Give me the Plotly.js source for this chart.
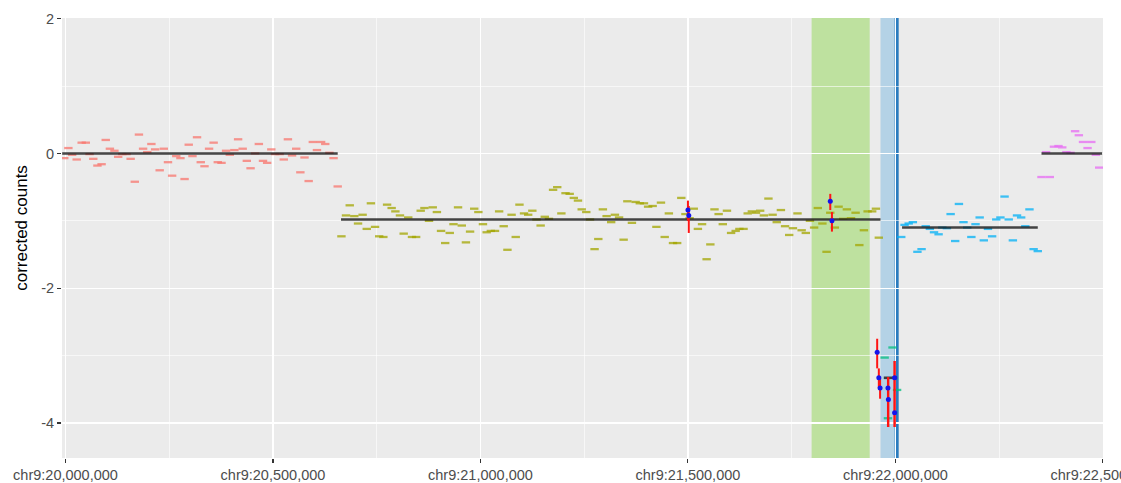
<!DOCTYPE html>
<html>
<head>
<meta charset="utf-8">
<script src="https://cdn.plot.ly/plotly-3.0.1.min.js"></script>
<style>html,body{margin:0;padding:0;background:#fff;overflow:hidden;}#chart{width:1121px;height:483px;}</style>
</head>
<body>
<div id="chart"></div>
<script>
// ---- data (genomic position in bp, corrected counts) ----
const seg1X = [19997000,20007000,20016000,20027000,20039000,20049000,20058000,20067000,20077000,20087000,20097000,20107000,20118000,20127000,20137000,20147000,20157000,20167000,20177000,20187000,20197000,20207000,20216000,20227000,20237000,20247000,20257000,20267000,20277000,20287000,20297000,20306000,20317000,20326000,20335000,20346000,20357000,20367000,20376000,20387000,20396000,20407000,20416000,20427000,20437000,20446000,20457000,20466000,20476000,20486000,20496000,20505000,20516000,20526000,20536000,20546000,20556000,20566000,20576000,20586000,20596000,20606000,20616000,20626000,20636000,20646000,20656000];
const seg1Y = [-0.07,0.08,-0.02,-0.09,0.16,0.16,-0.01,-0.08,-0.18,-0.16,0.20,0.07,0.04,-0.05,-0.01,-0.01,-0.08,-0.42,0.28,0.07,0.02,0.14,0.06,-0.25,0.07,-0.13,-0.33,-0.04,-0.07,-0.38,0.13,-0.04,0.24,-0.13,-0.19,0.07,0.16,-0.13,-0.14,0.04,-0.02,0.05,0.21,0.07,-0.11,-0.22,0.00,0.14,-0.11,-0.14,0.06,-0.01,-0.01,-0.09,0.21,-0.03,0.07,-0.28,-0.06,-0.41,0.17,0.05,0.17,0.14,0.01,-0.07,-0.49];

const seg2X = [20665000,20676000,20685000,20696000,20705000,20716000,20726000,20736000,20746000,20756000,20766000,20775000,20786000,20795000,20806000,20815000,20826000,20835000,20845000,20856000,20865000,20876000,20885000,20895000,20905000,20915000,20926000,20935000,20946000,20955000,20965000,20975000,20985000,20995000,21006000,21015000,21025000,21035000,21045000,21056000,21065000,21075000,21085000,21094000,21105000,21115000,21125000,21135000,21145000,21155000,21165000,21175000,21185000,21195000,21205000,21215000,21225000,21235000,21244000,21255000,21264000,21275000,21284000,21295000,21304000,21315000,21324000,21334000,21345000,21354000,21365000,21374000,21384000,21394000,21404000,21415000,21424000,21435000,21444000,21454000,21464000,21474000,21484000,21494000,21504000,21514000,21524000,21534000,21545000,21554000,21564000,21574000,21584000,21594000,21604000,21615000,21624000,21634000,21644000,21654000,21664000,21674000,21683000,21694000,21704000,21714000,21724000,21734000,21744000,21753000,21764000,21774000,21784000,21794000,21804000,21813000,21824000,21834000,21843000,21854000,21863000,21874000,21883000,21893000,21904000,21913000,21924000,21933000,21944000,21953000,21960000];
const seg2Y = [-1.23,-0.92,-0.77,-0.93,-1.04,-0.91,-1.12,-0.74,-1.09,-1.23,-1.24,-0.76,-0.81,-0.86,-0.92,-1.19,-0.95,-1.24,-1.24,-0.85,-0.81,-1.00,-0.80,-0.87,-1.15,-1.33,-1.18,-1.05,-0.80,-1.07,-1.32,-1.16,-0.82,-0.87,-1.05,-1.17,-1.15,-1.15,-0.86,-1.08,-1.43,-0.91,-1.24,-0.76,-0.89,-0.91,-0.85,-0.98,-1.07,-0.94,-0.97,-0.54,-0.50,-0.89,-0.59,-0.60,-0.66,-0.70,-0.83,-0.87,-0.98,-1.42,-1.27,-0.83,-0.93,-1.02,-0.91,-0.95,-1.28,-0.71,-1.03,-0.72,-0.74,-0.74,-0.79,-0.78,-1.09,-0.73,-1.24,-0.89,-1.33,-1.33,-0.66,-0.90,-0.96,-0.82,-1.12,-1.05,-1.57,-1.35,-0.83,-0.90,-1.05,-0.85,-1.18,-1.15,-1.12,-1.12,-0.89,-0.86,-0.88,-0.85,-0.92,-0.67,-0.91,-1.02,-0.84,-1.08,-1.21,-1.11,-0.89,-1.14,-1.18,-1.00,-1.10,-0.81,-1.04,-1.46,-0.88,-1.10,-0.79,-0.97,-0.83,-0.96,-0.88,-1.36,-1.14,-0.86,-0.86,-0.82,-1.25];

const seg3X = [21974000,21982000,21993000,22004000];
const seg3Y = [-3.03,-3.93,-2.88,-3.51];

const seg4X = [22014000,22022000,22032000,22042000,22053000,22063000,22073000,22083000,22093000,22104000,22113000,22124000,22133000,22144000,22153000,22164000,22173000,22183000,22193000,22203000,22213000,22223000,22233000,22243000,22253000,22263000,22273000,22283000,22293000,22303000,22313000,22323000,22333000,22343000];
const seg4Y = [-1.24,-1.06,-1.04,-1.02,-1.46,-1.42,-1.08,-1.12,-1.17,-1.20,-1.10,-1.11,-0.90,-1.30,-0.75,-1.02,-1.10,-1.24,-1.05,-0.95,-1.29,-1.12,-1.23,-0.98,-0.95,-0.64,-0.98,-1.29,-0.92,-0.95,-1.08,-0.83,-1.42,-1.45];

const seg5X = [22352000,22363000,22372000,22382000,22393000,22402000,22412000,22422000,22433000,22442000,22452000,22463000,22472000,22483000,22491000];
const seg5Y = [-0.35,0.02,-0.35,0.10,0.11,0.09,0.02,0.01,0.33,0.27,0.17,0.08,0.17,-0.02,-0.21];

// segment means: start, end, value
const segStart = [19992000,20664000,21972000,22016000,22352000];
const segEnd   = [20656000,21964000,22004000,22343000,22498000];
const segMean  = [0.00,-0.98,-3.33,-1.10,0.00];

// highlighted probes with confidence intervals
const ciX  = [21500000,21502000,21843000,21847000,21956000,21960000,21963000,21982000,21983000,21998000,21998000];
const ciY  = [-0.84,-0.92,-0.71,-1.00,-2.95,-3.33,-3.48,-3.48,-3.65,-3.33,-3.85];
const ciLo = [-1.00,-1.18,-0.84,-1.16,-3.19,-3.48,-3.64,-4.06,-4.06,-4.06,-4.06];
const ciHi = [-0.70,-0.78,-0.60,-0.87,-2.75,-3.19,-3.33,-3.32,-3.32,-3.08,-3.08];

// regions
const greenRegion = [21798000,21938000];
const blueRegion  = [21964000,22000000];
const breakpoint  = 22003000;

const xTickVals = [20000000,20500000,21000000,21500000,22000000,22500000];
const xTickText = ["chr9:20,000,000","chr9:20,500,000","chr9:21,000,000","chr9:21,500,000","chr9:22,000,000","chr9:22,500,000"];

// ---- traces ----
function dashTrace(x, y, col) {
  return {type:'scatter', mode:'markers', x:x, y:y, hoverinfo:'skip', showlegend:false,
    marker:{symbol:'line-ew', size:6, line:{color:col, width:2.3}}};
}
const traces = [
  dashTrace(seg1X, seg1Y, 'rgba(248,118,109,0.75)'),
  dashTrace(seg2X, seg2Y, 'rgba(163,165,0,0.75)'),
  dashTrace(seg3X, seg3Y, 'rgba(0,191,125,0.75)'),
  dashTrace(seg4X, seg4Y, 'rgba(0,176,246,0.75)'),
  dashTrace(seg5X, seg5Y, 'rgba(231,107,243,0.75)')
];
const mx = [], my = [];
for (let i = 0; i < segStart.length; i++) {
  mx.push(segStart[i], segEnd[i], null);
  my.push(segMean[i], segMean[i], null);
}
traces.push({type:'scatter', mode:'lines', x:mx, y:my, hoverinfo:'skip', showlegend:false,
  line:{color:'rgba(25,25,25,0.8)', width:2.6}});
traces.push({type:'scatter', mode:'markers', x:ciX, y:ciY, hoverinfo:'skip', showlegend:false,
  marker:{color:'rgb(20,20,235)', size:5},
  error_y:{type:'data', symmetric:false,
    array: ciHi.map((h,i)=>h-ciY[i]), arrayminus: ciY.map((v,i)=>v-ciLo[i]),
    color:'rgb(255,20,20)', thickness:2, width:0}});

const layout = {
  width:1121, height:483,
  margin:{l:62, r:18, t:18, b:25, pad:0},
  paper_bgcolor:'#ffffff', plot_bgcolor:'#EBEBEB',
  font:{family:'"Liberation Sans", Arial, sans-serif', color:'#4D4D4D'},
  xaxis:{range:[19991600,22500200], tickmode:'array', tickvals:xTickVals, ticktext:xTickText,
    showgrid:true, gridcolor:'#ffffff', gridwidth:1.2, zeroline:false, showline:false,
    ticks:'outside', ticklen:4, tickcolor:'#333333', tickwidth:1.1,
    ticklabeloverflow:'allow',
    tickfont:{size:14.5, color:'#4D4D4D'},
    minor:{tickmode:'linear', tick0:20250000, dtick:500000, showgrid:true, gridcolor:'#ffffff', gridwidth:0.6}},
  yaxis:{range:[-4.52,2.01], tickmode:'array', tickvals:[-4,-2,0,2], ticktext:['-4','-2','0','2'],
    showgrid:true, gridcolor:'#ffffff', gridwidth:1.2, zeroline:false, showline:false,
    ticks:'outside', ticklen:4, tickcolor:'#333333', tickwidth:1.1,
    tickfont:{size:14.5, color:'#4D4D4D'},
    minor:{tickmode:'linear', tick0:-3, dtick:2, showgrid:true, gridcolor:'#ffffff', gridwidth:0.6}},
  shapes:[
    {type:'rect', layer:'between', xref:'x', yref:'paper', x0:greenRegion[0], x1:greenRegion[1], y0:0, y1:1,
      fillcolor:'#BEE19F', line:{width:0}},
    {type:'rect', layer:'between', xref:'x', yref:'paper', x0:blueRegion[0], x1:blueRegion[1], y0:0, y1:1,
      fillcolor:'#B4D2E6', line:{width:0}},
    {type:'line', layer:'between', xref:'x', yref:'paper', x0:breakpoint, x1:breakpoint, y0:0, y1:1,
      line:{color:'#2A7CBF', width:4}}
  ],
  annotations:[
    {text:'corrected counts', xref:'paper', yref:'paper', x:-0.0385, y:0.523, textangle:-90,
      showarrow:false, xanchor:'center', yanchor:'middle', font:{size:17, color:'#000000'}}
  ]
};
Plotly.newPlot('chart', traces, layout, {displayModeBar:false, staticPlot:true});
</script>
</body>
</html>
